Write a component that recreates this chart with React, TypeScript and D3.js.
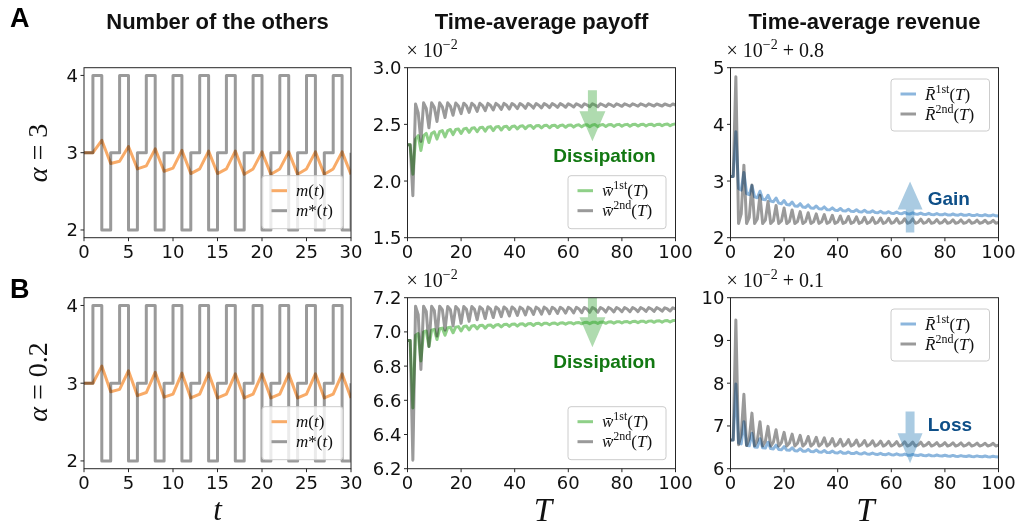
import React from 'react';
import * as d3 from 'd3';

// ---------- data ----------
const tTicks = [0, 5, 10, 15, 20, 25, 30];
const TTicks = [0, 20, 40, 60, 80, 100];
const mTicks = [2, 3, 4];
const wTicksA = [1.5, 2.0, 2.5, 3.0];
const wTicksB = [6.2, 6.4, 6.6, 6.8, 7.0, 7.2];
const rTicksA = [2, 3, 4, 5];
const rTicksB = [6, 7, 8, 9, 10];

// number of the others, t = 0..30
const mStarA = [3, 4, 2, 3, 4, 2, 3, 4, 2, 3, 4, 2, 3, 4, 2, 3, 4, 2, 3, 4, 2, 3, 4, 2, 3, 4, 2, 3, 4, 2, 3];
const mStarB = [3, 4, 2, 3, 4, 2, 3, 4, 2, 3, 4, 2, 3, 4, 2, 3, 4, 2, 3, 4, 2, 3, 4, 2, 3, 4, 2, 3, 4, 2, 3];
const mA = [3, 3, 3.16, 2.86, 2.89, 3.08, 2.79, 2.83, 3.05, 2.76, 2.8, 3.03, 2.73, 2.79, 3.02, 2.73, 2.79, 3.02,
  2.72, 2.79, 3.01, 2.72, 2.79, 3.01, 2.72, 2.79, 3.01, 2.72, 2.79, 3.01, 2.72];
const mB = [3, 3, 3.22, 2.89, 2.92, 3.16, 2.84, 2.88, 3.14, 2.82, 2.86, 3.13, 2.81, 2.86, 3.13, 2.81, 2.86, 3.12,
  2.81, 2.86, 3.12, 2.81, 2.86, 3.12, 2.81, 2.86, 3.12, 2.81, 2.86, 3.12, 2.81];

// time-average payoff (x 1e-2), T = 0..100
const w1A = [
  2.32, 2.32, 2.06, 2.37, 2.40, 2.27, 2.40, 2.42, 2.34, 2.42, 2.435, 2.37,
  2.435, 2.445, 2.39, 2.445, 2.455, 2.41, 2.455, 2.46, 2.42, 2.46, 2.465, 2.43,
  2.465, 2.47, 2.435, 2.47, 2.475, 2.44, 2.475, 2.48, 2.445, 2.478, 2.482, 2.45,
  2.48, 2.484, 2.455, 2.482, 2.486, 2.46, 2.484, 2.488, 2.462, 2.486, 2.49, 2.465,
  2.488, 2.491, 2.468, 2.489, 2.492, 2.47, 2.49, 2.493, 2.472, 2.491, 2.494, 2.474,
  2.492, 2.495, 2.476, 2.493, 2.496, 2.478, 2.494, 2.497, 2.479, 2.495, 2.498, 2.48,
  2.495, 2.498, 2.481, 2.496, 2.499, 2.482, 2.497, 2.5, 2.483, 2.497, 2.5, 2.484,
  2.498, 2.501, 2.485, 2.498, 2.501, 2.486, 2.499, 2.502, 2.487, 2.499, 2.502, 2.488,
  2.5, 2.503, 2.488, 2.5, 2.503,
];
const w2A = [
  2.32, 2.32, 1.87, 2.68, 2.60, 2.35, 2.69, 2.64, 2.47, 2.69, 2.65, 2.525,
  2.69, 2.655, 2.56, 2.69, 2.66, 2.58, 2.688, 2.662, 2.595, 2.687, 2.664, 2.606,
  2.686, 2.665, 2.615, 2.686, 2.666, 2.621, 2.685, 2.667, 2.627, 2.685, 2.667, 2.631,
  2.685, 2.668, 2.635, 2.684, 2.668, 2.639, 2.684, 2.669, 2.641, 2.684, 2.669, 2.644,
  2.683, 2.669, 2.646, 2.683, 2.67, 2.648, 2.683, 2.67, 2.65, 2.683, 2.67, 2.651,
  2.682, 2.67, 2.653, 2.682, 2.67, 2.654, 2.682, 2.671, 2.655, 2.682, 2.671, 2.656,
  2.682, 2.671, 2.657, 2.681, 2.671, 2.658, 2.681, 2.671, 2.659, 2.681, 2.671, 2.66,
  2.681, 2.671, 2.66, 2.681, 2.671, 2.661, 2.681, 2.671, 2.662, 2.68, 2.671, 2.662,
  2.68, 2.671, 2.663, 2.68, 2.671,
];
const w1B = [
  6.95, 6.95, 6.555, 6.98, 6.99, 6.83, 7.0, 7.005, 6.915, 7.01, 7.015, 6.955,
  7.018, 7.022, 6.98, 7.024, 7.027, 6.995, 7.028, 7.031, 7.005, 7.032, 7.034, 7.012,
  7.035, 7.037, 7.018, 7.037, 7.039, 7.022, 7.039, 7.041, 7.026, 7.041, 7.043, 7.029,
  7.043, 7.045, 7.032, 7.045, 7.046, 7.034, 7.046, 7.048, 7.036, 7.048, 7.049, 7.038,
  7.049, 7.05, 7.04, 7.05, 7.051, 7.042, 7.051, 7.052, 7.043, 7.052, 7.053, 7.045,
  7.053, 7.054, 7.046, 7.054, 7.055, 7.047, 7.055, 7.056, 7.048, 7.056, 7.057, 7.049,
  7.057, 7.058, 7.05, 7.058, 7.059, 7.051, 7.059, 7.06, 7.052, 7.06, 7.061, 7.053,
  7.061, 7.062, 7.054, 7.062, 7.063, 7.055, 7.063, 7.064, 7.056, 7.064, 7.065, 7.057,
  7.065, 7.066, 7.058, 7.066, 7.067,
];
const w2B = [
  6.95, 6.95, 6.25, 7.15, 7.10, 6.78, 7.15, 7.12, 6.915, 7.15, 7.125, 6.976,
  7.15, 7.13, 7.011, 7.149, 7.13, 7.034, 7.149, 7.131, 7.05, 7.148, 7.132, 7.062,
  7.148, 7.132, 7.071, 7.147, 7.133, 7.078, 7.147, 7.133, 7.084, 7.146, 7.133, 7.089,
  7.146, 7.133, 7.093, 7.146, 7.133, 7.096, 7.145, 7.134, 7.099, 7.145, 7.134, 7.102,
  7.145, 7.134, 7.104, 7.145, 7.134, 7.106, 7.144, 7.134, 7.108, 7.144, 7.134, 7.11,
  7.144, 7.134, 7.111, 7.144, 7.134, 7.112, 7.143, 7.134, 7.114, 7.143, 7.134, 7.115,
  7.143, 7.134, 7.116, 7.143, 7.134, 7.117, 7.143, 7.134, 7.118, 7.142, 7.134, 7.118,
  7.142, 7.134, 7.119, 7.142, 7.134, 7.12, 7.142, 7.134, 7.12, 7.142, 7.134, 7.121,
  7.141, 7.134, 7.122, 7.141, 7.134,
];

// time-average revenue (x 1e-2 + offset), T = 0..100
const r1A = [
  3.08, 3.08, 3.87, 2.87, 2.84, 3.15, 2.78, 2.76, 2.92, 2.72, 2.705, 2.82,
  2.68, 2.67, 2.75, 2.645, 2.635, 2.70, 2.61, 2.60, 2.655, 2.585, 2.577, 2.63,
  2.56, 2.553, 2.60, 2.54, 2.534, 2.578, 2.525, 2.519, 2.56, 2.51, 2.505, 2.543,
  2.495, 2.491, 2.527, 2.485, 2.481, 2.515, 2.475, 2.471, 2.503, 2.465, 2.462, 2.492,
  2.457, 2.454, 2.483, 2.45, 2.447, 2.474, 2.443, 2.44, 2.466, 2.437, 2.434, 2.459,
  2.431, 2.429, 2.452, 2.426, 2.424, 2.446, 2.421, 2.419, 2.44, 2.417, 2.415, 2.435,
  2.413, 2.411, 2.431, 2.409, 2.407, 2.426, 2.405, 2.403, 2.422, 2.402, 2.4, 2.418,
  2.399, 2.397, 2.415, 2.396, 2.394, 2.411, 2.393, 2.391, 2.408, 2.39, 2.388, 2.405,
  2.388, 2.386, 2.402, 2.386, 2.384,
];
const r2A = [
  3.08, 3.08, 4.84, 2.25, 2.42, 3.28, 2.25, 2.36, 2.93, 2.25, 2.33, 2.75,
  2.25, 2.31, 2.64, 2.25, 2.30, 2.57, 2.25, 2.295, 2.525, 2.25, 2.29, 2.49,
  2.251, 2.287, 2.46, 2.251, 2.284, 2.44, 2.251, 2.282, 2.42, 2.252, 2.28, 2.407,
  2.252, 2.278, 2.395, 2.252, 2.277, 2.384, 2.252, 2.276, 2.375, 2.253, 2.275, 2.367,
  2.253, 2.274, 2.36, 2.253, 2.273, 2.354, 2.253, 2.272, 2.348, 2.253, 2.272, 2.343,
  2.254, 2.271, 2.339, 2.254, 2.271, 2.335, 2.254, 2.27, 2.331, 2.254, 2.27, 2.327,
  2.254, 2.27, 2.324, 2.254, 2.269, 2.321, 2.255, 2.269, 2.319, 2.255, 2.269, 2.316,
  2.255, 2.268, 2.314, 2.255, 2.268, 2.312, 2.255, 2.268, 2.31, 2.255, 2.268, 2.308,
  2.255, 2.267, 2.306, 2.256, 2.267,
];
const r1B = [
  6.67, 6.67, 7.98, 6.6, 6.58, 7.1, 6.55, 6.535, 6.83, 6.51, 6.5, 6.70,
  6.49, 6.482, 6.62, 6.47, 6.463, 6.55, 6.45, 6.444, 6.515, 6.435, 6.43, 6.49,
  6.42, 6.416, 6.468, 6.41, 6.406, 6.453, 6.40, 6.396, 6.439, 6.39, 6.386, 6.425,
  6.38, 6.376, 6.412, 6.372, 6.368, 6.402, 6.364, 6.36, 6.392, 6.357, 6.353, 6.383,
  6.35, 6.346, 6.374, 6.344, 6.34, 6.367, 6.338, 6.334, 6.36, 6.332, 6.328, 6.353,
  6.327, 6.323, 6.347, 6.322, 6.318, 6.341, 6.317, 6.313, 6.335, 6.312, 6.308, 6.329,
  6.308, 6.304, 6.324, 6.304, 6.3, 6.32, 6.3, 6.296, 6.315, 6.296, 6.292, 6.311,
  6.292, 6.288, 6.306, 6.289, 6.285, 6.303, 6.286, 6.282, 6.299, 6.283, 6.279, 6.296,
  6.28, 6.276, 6.292, 6.277, 6.273,
];
const r2B = [
  6.67, 6.67, 9.48, 6.56, 6.8, 7.74, 6.54, 6.7, 7.30, 6.535, 6.66, 7.10,
  6.53, 6.64, 6.99, 6.53, 6.62, 6.91, 6.53, 6.61, 6.85, 6.53, 6.60, 6.81,
  6.53, 6.595, 6.78, 6.53, 6.59, 6.755, 6.53, 6.585, 6.735, 6.53, 6.58, 6.72,
  6.53, 6.577, 6.705, 6.53, 6.574, 6.69, 6.53, 6.571, 6.68, 6.53, 6.569, 6.67,
  6.53, 6.567, 6.66, 6.53, 6.565, 6.653, 6.53, 6.563, 6.646, 6.53, 6.562, 6.64,
  6.53, 6.56, 6.634, 6.53, 6.559, 6.629, 6.53, 6.558, 6.624, 6.53, 6.557, 6.62,
  6.53, 6.556, 6.616, 6.53, 6.555, 6.612, 6.53, 6.554, 6.609, 6.53, 6.553, 6.606,
  6.53, 6.553, 6.603, 6.53, 6.552, 6.6, 6.53, 6.551, 6.598, 6.53, 6.551, 6.595,
  6.53, 6.55, 6.593, 6.53, 6.55,
];

// ---------- styling ----------
const GRAY = '#9a9a9a';
const ORANGE = '#f8ab68';
const GREEN = '#8fd088';
const BLUE = '#8cb6dd';
const TICK_FONT = '"DejaVu Sans", sans-serif';
const MATH_FONT = '"Liberation Serif", "Times New Roman", serif';
const BOLD_FONT = '"Liberation Sans", Arial, sans-serif';

const COLS = [{ x: 84, w: 267 }, { x: 407.5, w: 268 }, { x: 730.5, w: 268 }];
const ROWS = [{ y: 67.7, h: 170 }, { y: 297.7, h: 171 }];

type Box = { x: number; y: number; w: number; h: number };
type Sc = d3.ScaleLinear<number, number>;

const lineStyle = (c: string) => ({
  fill: 'none', stroke: c, strokeWidth: 3, strokeLinejoin: 'round' as const, mixBlendMode: 'multiply' as const,
});

function series(vals: number[], x: Sc, y: Sc, step = false) {
  const gen = d3.line<number>().x((_, i) => x(i)).y((d) => y(d));
  if (step) gen.curve(d3.curveStepAfter);
  return gen(vals) || '';
}

function arrowPath(cx: number, yTail: number, yTip: number, shaftW: number, headW: number, headL: number) {
  const dir = yTip > yTail ? 1 : -1;
  const yb = yTip - dir * headL;
  return `M${cx - shaftW / 2},${yTail}L${cx + shaftW / 2},${yTail}L${cx + shaftW / 2},${yb}L${cx + headW / 2},${yb}L${cx},${yTip}L${cx - headW / 2},${yb}L${cx - shaftW / 2},${yb}Z`;
}

function Panel({ id, box, xDomain, yDomain, xTicks, yTicks, yFmt, draw, over }: {
  id: string; box: Box; xDomain: number[]; yDomain: number[]; xTicks: number[]; yTicks: number[];
  yFmt: (v: number) => string; draw: (x: Sc, y: Sc) => React.ReactNode; over?: (x: Sc, y: Sc) => React.ReactNode;
}) {
  const x = d3.scaleLinear().domain(xDomain).range([box.x, box.x + box.w]);
  const y = d3.scaleLinear().domain(yDomain).range([box.y + box.h, box.y]);
  const bottom = box.y + box.h;
  return (
    <g>
      <defs>
        <clipPath id={id}><rect x={box.x} y={box.y} width={box.w} height={box.h} /></clipPath>
      </defs>
      <g clipPath={`url(#${id})`}>{draw(x, y)}</g>
      <rect x={box.x} y={box.y} width={box.w} height={box.h} fill="none" stroke="#262626" strokeWidth={1} />
      {xTicks.map((t) => (
        <g key={'x' + t}>
          <line x1={x(t)} x2={x(t)} y1={bottom} y2={bottom + 3.5} stroke="#262626" />
          <text x={x(t)} y={bottom + 20.5} textAnchor="middle" fontFamily={TICK_FONT} fontSize={18} fill="#111">{t}</text>
        </g>
      ))}
      {yTicks.map((t) => (
        <g key={'y' + t}>
          <line x1={box.x - 3.5} x2={box.x} y1={y(t)} y2={y(t)} stroke="#262626" />
          <text x={box.x - 6} y={y(t) + 6.5} textAnchor="end" fontFamily={TICK_FONT} fontSize={18} fill="#111">{yFmt(t)}</text>
        </g>
      ))}
      {over && over(x, y)}
    </g>
  );
}

function Legend({ x, y, w, h, items }: { x: number; y: number; w: number; h: number; items: { color: string; label: React.ReactNode }[] }) {
  return (
    <g>
      <rect x={x} y={y} width={w} height={h} rx={3} fill="#fff" fillOpacity={0.8} stroke="#cccccc" strokeWidth={1} />
      {items.map((it, i) => {
        const cy = y + 15 + i * 20;
        return (
          <g key={i}>
            <line x1={x + 9.5} x2={x + 25} y1={cy} y2={cy} stroke={it.color} strokeWidth={3} />
            <text x={x + 34} y={cy + 5.5} fontFamily={MATH_FONT} fontSize={17} fill="#111">{it.label}</text>
          </g>
        );
      })}
    </g>
  );
}

const mLabel = (<><tspan fontStyle="italic">m</tspan>(<tspan fontStyle="italic">t</tspan>)</>);
const mStarLabel = (<><tspan fontStyle="italic">m</tspan>*(<tspan fontStyle="italic">t</tspan>)</>);
const barLabel = (sym: string, sup: string) => (
  <>
    <tspan fontStyle="italic">{sym + '\u0304'}</tspan>
    <tspan dy={-7} fontSize={12}>{sup}</tspan>
    <tspan dy={7}>(</tspan><tspan fontStyle="italic">T</tspan>)
  </>
);

function Multiplier({ x, y, extra }: { x: number; y: number; extra?: string }) {
  return (
    <text x={x} y={y} fontFamily={MATH_FONT} fontSize={20} fill="#111">
      × 10<tspan dy={-8} fontSize={14}>−2</tspan>
      {extra && <tspan dy={8}>{' + ' + extra}</tspan>}
    </text>
  );
}

function PayoffPanel({ id, row, w1, w2, yDomain, yTicks }: { id: string; row: number; w1: number[]; w2: number[]; yDomain: number[]; yTicks: number[] }) {
  const box = { ...COLS[1], ...ROWS[row] } as Box;
  const top = row === 0;
  return (
    <Panel id={id} box={box} xDomain={[0, 100]} yDomain={yDomain} xTicks={TTicks} yTicks={yTicks}
      yFmt={d3.format('.1f')}
      draw={(x, y) => (
        <>
          <path d={series(w1, x, y)} style={lineStyle(GREEN)} />
          <path d={series(w2, x, y)} style={lineStyle(GRAY)} />
          <path d={arrowPath(x(69), top ? y(2.8) : box.y - 1, top ? y(2.35) : y(6.91), 9, 26, 30)} fill="#2ca02c" fillOpacity={0.38} />
        </>
      )}
      over={(x, y) => (
        <>
          <text x={x(73.5)} y={top ? y(2.17) : y(6.79)} textAnchor="middle" fontFamily={BOLD_FONT} fontWeight="bold" fontSize={19} fill="#127812">Dissipation</text>
          <Legend x={box.x + box.w - 107.5} y={box.y + box.h - 62} w={98} h={53}
            items={[{ color: GREEN, label: barLabel('w', '1st') }, { color: GRAY, label: barLabel('w', '2nd') }]} />
          <Multiplier x={box.x - 1} y={box.y - 10.5} />
        </>
      )}
    />
  );
}

function RevenuePanel({ id, row, r1, r2, yDomain, yTicks, up, offset }: { id: string; row: number; r1: number[]; r2: number[]; yDomain: number[]; yTicks: number[]; up: boolean; offset: string }) {
  const box = { ...COLS[2], ...ROWS[row] } as Box;
  return (
    <Panel id={id} box={box} xDomain={[0, 100]} yDomain={yDomain} xTicks={TTicks} yTicks={yTicks}
      yFmt={d3.format('d')}
      draw={(x, y) => (
        <>
          <path d={series(r1, x, y)} style={lineStyle(BLUE)} />
          <path d={series(r2, x, y)} style={lineStyle(GRAY)} />
          <path d={up ? arrowPath(x(67), y(2.09), y(2.99), 8.5, 25, 28) : arrowPath(x(67), y(7.34), y(6.13), 9, 25, 30)} fill="#1f77b4" fillOpacity={0.38} />
        </>
      )}
      over={(x, y) => (
        <>
          <text x={x(73.6)} y={up ? y(2.58) : y(6.89)} fontFamily={BOLD_FONT} fontWeight="bold" fontSize={19} fill="#0e4f88">{up ? 'Gain' : 'Loss'}</text>
          <Legend x={box.x + box.w - 107.5} y={box.y + 11.3} w={98.5} h={52}
            items={[{ color: BLUE, label: barLabel('R', '1st') }, { color: GRAY, label: barLabel('R', '2nd') }]} />
          <Multiplier x={box.x - 4} y={box.y - 10.5} extra={offset} />
        </>
      )}
    />
  );
}

function OthersPanel({ id, row, m, mStar }: { id: string; row: number; m: number[]; mStar: number[] }) {
  const box = { ...COLS[0], ...ROWS[row] } as Box;
  return (
    <Panel id={id} box={box} xDomain={[0, 30]} yDomain={[1.9, 4.1]} xTicks={tTicks} yTicks={mTicks}
      yFmt={d3.format('d')}
      draw={(x, y) => (
        <>
          <path d={series(mStar, x, y, true)} style={lineStyle(GRAY)} />
          <path d={series(m, x, y)} style={lineStyle(ORANGE)} />
        </>
      )}
      over={() => (
        <Legend x={box.x + box.w - 89} y={box.y + box.h - 62} w={81} h={53}
          items={[{ color: ORANGE, label: mLabel }, { color: GRAY, label: mStarLabel }]} />
      )}
    />
  );
}

export default function App() {
  const centers = COLS.map((c) => c.x + c.w / 2);
  return (
    <svg width={1020} height={527} style={{ position: 'absolute', left: 0, top: 0, background: '#fff' }}>
      <rect width={1020} height={527} fill="#fff" />
      <text x={10} y={27} fontFamily={BOLD_FONT} fontWeight="bold" fontSize={27}>A</text>
      <text x={10} y={298} fontFamily={BOLD_FONT} fontWeight="bold" fontSize={27}>B</text>
      {['Number of the others', 'Time-average payoff', 'Time-average revenue'].map((s, i) => (
        <text key={s} x={centers[i]} y={29} textAnchor="middle" fontFamily={BOLD_FONT} fontWeight="bold" fontSize={22} fill="#111">{s}</text>
      ))}
      <text transform="translate(47,153) rotate(-90)" textAnchor="middle" fontFamily={MATH_FONT} fontSize={28} fill="#111">
        <tspan fontStyle="italic">α</tspan> = 3
      </text>
      <text transform="translate(47,382) rotate(-90)" textAnchor="middle" fontFamily={MATH_FONT} fontSize={28} fill="#111">
        <tspan fontStyle="italic">α</tspan> = 0.2
      </text>

      <OthersPanel id="c0" row={0} m={mA} mStar={mStarA} />
      <OthersPanel id="c1" row={1} m={mB} mStar={mStarB} />
      <PayoffPanel id="c2" row={0} w1={w1A} w2={w2A} yDomain={[1.5, 3.0]} yTicks={wTicksA} />
      <PayoffPanel id="c3" row={1} w1={w1B} w2={w2B} yDomain={[6.2, 7.2]} yTicks={wTicksB} />
      <RevenuePanel id="c4" row={0} r1={r1A} r2={r2A} yDomain={[2, 5]} yTicks={rTicksA} up offset="0.8" />
      <RevenuePanel id="c5" row={1} r1={r1B} r2={r2B} yDomain={[6, 10]} yTicks={rTicksB} up={false} offset="0.1" />

      <text x={centers[0]} y={520} textAnchor="middle" fontFamily={MATH_FONT} fontStyle="italic" fontSize={31} fill="#111">t</text>
      <text x={centers[1] + 1.5} y={521} textAnchor="middle" fontFamily={MATH_FONT} fontStyle="italic" fontSize={33} fill="#111">T</text>
      <text x={centers[2] + 1} y={521} textAnchor="middle" fontFamily={MATH_FONT} fontStyle="italic" fontSize={33} fill="#111">T</text>
    </svg>
  );
}
